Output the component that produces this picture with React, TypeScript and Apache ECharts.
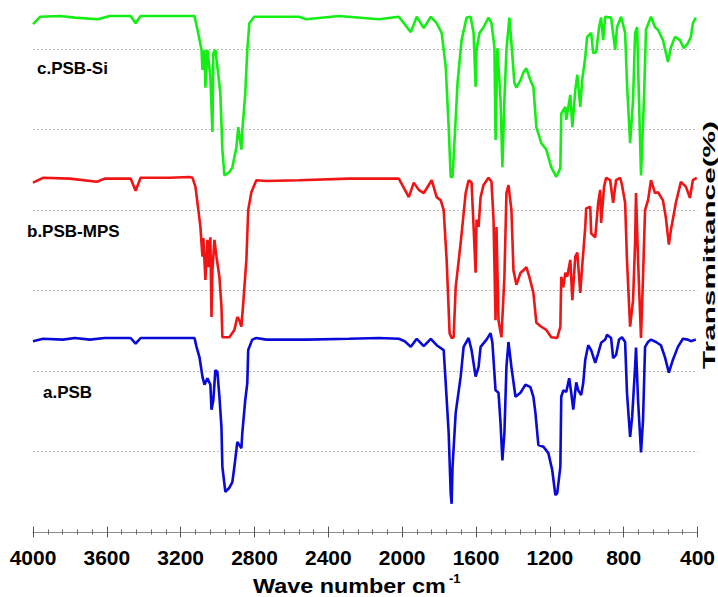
import React, { useEffect, useRef } from "react";
import * as echarts from "echarts";

// x-axis tick labels (wavenumber, cm-1)
const xTickLabels = [4000, 3600, 3200, 2800, 2400, 2000, 1600, 1200, 800, 400];

// Curve labels
const curveNames = ["a.PSB", "b.PSB-MPS", "c.PSB-Si"];

// a.PSB  [wavenumber, transmittance (offset units)]
const specA: [number, number][] = [
  [4000, 23.7], [3946, 24.0], [3838, 23.9], [3773, 24.1], [3692, 23.9], [3611, 24.1], [3471, 24.1], [3444, 23.4],
  [3417, 24.1], [3125, 24.1], [3114, 23.0], [3098, 21.7], [3082, 19.3], [3071, 18.3], [3055, 19.1], [3039, 18.3],
  [3033, 15.2], [3023, 16.4], [3012, 20.1], [3001, 19.9], [2990, 16.8], [2979, 13.0], [2974, 8.1], [2958, 5.0],
  [2936, 5.5], [2920, 6.2], [2909, 8.1], [2893, 11.2], [2871, 10.4], [2866, 12.3], [2850, 16.4], [2839, 18.5],
  [2834, 22.6], [2812, 23.9], [2790, 24.1], [2736, 23.9], [2612, 23.9], [2515, 23.9], [2288, 24.0], [2126, 24.1],
  [2018, 24.0], [1986, 23.7], [1953, 23.0], [1921, 24.0], [1883, 23.1], [1845, 24.0], [1813, 23.2], [1775, 22.6],
  [1764, 18.5], [1748, 12.3], [1737, 4.8], [1732, 3.5], [1727, 8.1], [1710, 14.8], [1683, 19.3], [1667, 23.0],
  [1640, 24.1], [1624, 22.6], [1602, 19.3], [1586, 20.5], [1575, 23.0], [1543, 23.9], [1521, 24.7], [1511, 23.5],
  [1494, 17.6], [1478, 17.3], [1467, 13.5], [1457, 8.9], [1446, 12.3], [1435, 20.5], [1424, 23.6], [1408, 20.5],
  [1386, 16.8], [1359, 17.3], [1332, 18.3], [1305, 18.0], [1289, 16.8], [1278, 14.8], [1262, 10.8], [1235, 10.6],
  [1208, 9.8], [1187, 7.7], [1170, 4.6], [1160, 4.8], [1143, 8.1], [1138, 16.8], [1127, 17.6], [1111, 17.4],
  [1095, 19.1], [1084, 17.3], [1073, 15.2], [1057, 18.6], [1046, 17.6], [1030, 17.0], [1019, 18.5], [1008, 21.4],
  [992, 23.2], [976, 22.6], [954, 21.0], [938, 22.2], [922, 23.5], [900, 23.9], [890, 24.5], [868, 24.1],
  [857, 21.6], [841, 22.0], [825, 23.9], [809, 24.2], [792, 23.6], [782, 17.3], [765, 11.8], [754, 14.3],
  [738, 20.5], [733, 22.9], [722, 16.4], [706, 9.9], [695, 13.9], [684, 23.0], [668, 23.6], [652, 23.9],
  [625, 23.6], [598, 23.2], [576, 21.7], [555, 19.8], [533, 21.4], [506, 23.0], [479, 24.0], [452, 23.9],
  [436, 23.7], [409, 23.9],
];

// b.PSB-MPS
const specB: [number, number][] = [
  [4000, 43.4], [3946, 44.0], [3800, 43.9], [3654, 43.5], [3611, 43.9], [3471, 43.9], [3444, 42.4], [3417, 44.0],
  [3260, 44.0], [3152, 44.1], [3136, 44.0], [3120, 42.9], [3109, 40.9], [3093, 37.9], [3082, 34.2], [3077, 36.5],
  [3066, 31.3], [3055, 36.3], [3050, 32.9], [3039, 36.6], [3033, 26.7], [3028, 32.5], [3017, 36.3], [3006, 34.2],
  [2990, 31.7], [2979, 28.0], [2974, 24.2], [2936, 24.2], [2909, 25.1], [2893, 26.7], [2882, 26.3], [2871, 25.5],
  [2861, 28.4], [2844, 33.8], [2834, 40.0], [2817, 42.2], [2790, 43.7], [2736, 43.6], [2558, 43.7], [2288, 43.9],
  [2018, 43.9], [1964, 41.6], [1937, 43.4], [1910, 42.5], [1883, 42.1], [1840, 43.7], [1813, 41.6], [1791, 41.2],
  [1775, 40.0], [1759, 33.8], [1743, 24.7], [1732, 24.1], [1721, 24.2], [1710, 30.4], [1683, 35.9], [1656, 42.1],
  [1640, 43.7], [1624, 43.4], [1613, 37.9], [1602, 32.2], [1597, 38.8], [1586, 37.9], [1575, 41.6], [1559, 43.1],
  [1532, 44.0], [1516, 43.5], [1505, 38.8], [1494, 26.3], [1489, 37.9], [1478, 26.3], [1462, 24.2], [1446, 31.7],
  [1435, 42.1], [1424, 43.1], [1408, 40.0], [1397, 32.5], [1381, 30.7], [1359, 32.2], [1343, 32.5], [1327, 32.9],
  [1311, 31.7], [1289, 29.7], [1273, 26.0], [1246, 25.5], [1219, 25.1], [1192, 24.2], [1160, 24.1], [1143, 25.5],
  [1138, 31.7], [1127, 30.4], [1116, 32.2], [1106, 31.7], [1089, 33.8], [1078, 28.8], [1062, 34.2], [1051, 34.7],
  [1035, 29.7], [1025, 32.9], [1008, 37.9], [1003, 40.2], [981, 40.4], [976, 37.1], [954, 36.6], [938, 40.9],
  [927, 42.5], [922, 38.4], [906, 42.9], [895, 44.0], [873, 43.7], [857, 40.9], [841, 43.7], [819, 44.0],
  [809, 43.1], [792, 40.9], [782, 33.8], [765, 25.5], [749, 28.8], [738, 35.9], [733, 42.1], [722, 33.8],
  [706, 24.1], [695, 31.7], [684, 40.0], [668, 41.2], [652, 43.7], [630, 42.1], [614, 42.2], [587, 41.2],
  [571, 39.0], [555, 35.7], [544, 37.5], [517, 40.9], [490, 43.5], [463, 42.9], [441, 41.5], [425, 43.7],
  [404, 44.0],
];

// c.PSB-Si
const specC: [number, number][] = [
  [4000, 63.1], [3962, 64.0], [3854, 64.1], [3773, 63.9], [3649, 63.7], [3584, 64.1], [3471, 64.1], [3444, 63.2],
  [3417, 64.1], [3260, 64.1], [3136, 64.1], [3125, 64.1], [3109, 62.4], [3087, 59.9], [3082, 57.4], [3071, 59.9],
  [3066, 55.2], [3055, 59.9], [3039, 56.5], [3028, 49.7], [3023, 59.5], [3012, 59.9], [3001, 57.8], [2985, 54.5],
  [2974, 47.5], [2963, 44.3], [2936, 44.7], [2920, 45.3], [2898, 47.8], [2888, 50.3], [2871, 47.5], [2866, 49.9],
  [2850, 54.5], [2839, 59.9], [2828, 63.2], [2801, 64.0], [2558, 64.0], [2520, 63.7], [2342, 64.1], [2126, 63.7],
  [2018, 64.0], [1953, 62.1], [1921, 64.0], [1883, 62.6], [1845, 64.0], [1813, 63.2], [1786, 62.0], [1764, 57.8],
  [1748, 50.3], [1737, 44.1], [1727, 44.1], [1716, 48.7], [1700, 55.8], [1678, 61.1], [1651, 63.9], [1629, 64.0],
  [1613, 62.0], [1602, 55.3], [1597, 59.9], [1581, 62.0], [1559, 62.7], [1532, 63.9], [1516, 63.2], [1500, 60.2],
  [1494, 48.7], [1484, 60.1], [1467, 53.7], [1457, 45.3], [1446, 53.7], [1435, 59.9], [1419, 63.9], [1408, 60.7],
  [1392, 55.8], [1381, 55.2], [1359, 56.1], [1343, 57.1], [1327, 57.6], [1305, 56.1], [1289, 55.3], [1273, 50.3],
  [1246, 48.3], [1219, 47.5], [1192, 45.3], [1165, 44.1], [1143, 45.2], [1138, 52.0], [1116, 52.8], [1111, 51.2],
  [1089, 54.3], [1078, 50.3], [1062, 54.9], [1051, 56.8], [1035, 52.8], [1025, 56.1], [1008, 59.0], [998, 61.5],
  [976, 62.0], [965, 59.5], [949, 59.6], [933, 62.7], [922, 63.9], [911, 61.1], [900, 64.0], [868, 63.9],
  [846, 59.9], [836, 62.7], [814, 64.0], [792, 62.0], [782, 55.8], [765, 48.3], [749, 53.7], [738, 62.0],
  [727, 62.7], [717, 53.7], [706, 44.3], [690, 53.7], [679, 62.4], [652, 64.0], [630, 62.7], [614, 62.4],
  [587, 61.1], [560, 58.4], [544, 60.2], [522, 61.5], [495, 61.1], [474, 60.1], [452, 60.7], [436, 61.5],
  [425, 63.2], [409, 63.9],
];

const FONT = '"Liberation Sans", Arial, sans-serif';

export default function App() {
  const ref = useRef<HTMLDivElement>(null);

  useEffect(() => {
    if (!ref.current) return;
    const chart = echarts.init(ref.current, null, { renderer: "svg" });

    const baseX = {
      type: "value",
      min: 400,
      max: 4000,
      interval: 400,
      inverse: true,
      position: "bottom",
      gridIndex: 0,
      splitLine: { show: false },
    };

    chart.setOption({
      animation: false,
      backgroundColor: "#ffffff",
      grid: { left: 33, right: 18, top: 8.75, bottom: 65, containLabel: false },
      xAxis: [
        {
          ...baseX,
          axisLine: { show: true, lineStyle: { color: "#8c8c8c", width: 1.2 } },
          axisTick: { show: true, inside: false, length: 5.5, lineStyle: { color: "#555555", width: 1 } },
          minorTick: { show: true, splitNumber: 5, length: 2.5, lineStyle: { color: "#666666", width: 1 } },
          axisLabel: {
            show: true,
            margin: 15,
            color: "#000000",
            fontFamily: FONT,
            fontWeight: "bold",
            fontSize: 21,
            lineHeight: 21,
            showMinLabel: true,
            showMaxLabel: true,
            formatter: (v: number) => (xTickLabels.includes(v) ? String(v) : ""),
          },
        },
        {
          ...baseX,
          axisLine: { show: false },
          axisTick: { show: true, inside: true, length: 5.5, lineStyle: { color: "#555555", width: 1 } },
          minorTick: { show: true, splitNumber: 5, length: 2.5, lineStyle: { color: "#666666", width: 1 } },
          axisLabel: { show: false },
        },
      ],
      yAxis: {
        type: "value",
        min: 0,
        max: 65,
        interval: 10,
        axisLine: { show: false },
        axisTick: { show: false },
        axisLabel: { show: false },
        splitLine: {
          show: true,
          showMaxLine: false,
          lineStyle: { color: "#bdbdbd", type: [2, 2], width: 1 },
        },
      },
      series: [
        {
          name: curveNames[0],
          type: "line",
          data: specA,
          showSymbol: false,
          symbol: "none",
          silent: true,
          lineStyle: { color: "#0a0ad8", width: 2.6 },
          z: 3,
        },
        {
          name: curveNames[1],
          type: "line",
          data: specB,
          showSymbol: false,
          symbol: "none",
          silent: true,
          lineStyle: { color: "#f01414", width: 2.6 },
          z: 3,
        },
        {
          name: curveNames[2],
          type: "line",
          data: specC,
          showSymbol: false,
          symbol: "none",
          silent: true,
          lineStyle: { color: "#14ee14", width: 2.6 },
          z: 3,
        },
      ],
      graphic: [
        {
          type: "text",
          x: 37,
          y: 68,
          style: { text: curveNames[2], font: `bold 17px ${FONT}`, fill: "#000", align: "left", verticalAlign: "middle" },
        },
        {
          type: "text",
          x: 27,
          y: 231,
          style: { text: curveNames[1], font: `bold 17px ${FONT}`, fill: "#000", align: "left", verticalAlign: "middle" },
        },
        {
          type: "text",
          x: 43,
          y: 392,
          style: { text: curveNames[0], font: `bold 17px ${FONT}`, fill: "#000", align: "left", verticalAlign: "middle" },
        },
        {
          type: "text",
          x: 253,
          y: 586,
          scaleX: 1.17,
          style: { text: "Wave number cm", font: `bold 20px ${FONT}`, fill: "#000", align: "left", verticalAlign: "middle" },
        },
        {
          type: "text",
          x: 449,
          y: 578,
          style: { text: "-1", font: `bold 13px ${FONT}`, fill: "#000", align: "left", verticalAlign: "middle" },
        },
        {
          type: "text",
          x: 709,
          y: 245,
          rotation: Math.PI / 2,
          scaleX: 1.75,
          style: { text: "Transmittance(%)", font: `bold 17px ${FONT}`, fill: "#000", align: "center", verticalAlign: "middle" },
        },
      ],
    });

    return () => chart.dispose();
  }, []);

  return (
    <div
      ref={ref}
      style={{ position: "fixed", left: 0, top: 0, width: 718, height: 597, background: "#fff" }}
    />
  );
}
